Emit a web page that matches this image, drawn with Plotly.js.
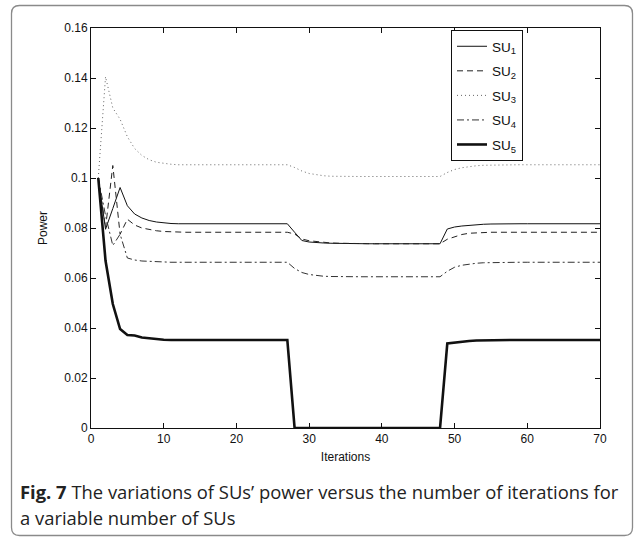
<!DOCTYPE html>
<html>
<head>
<meta charset="utf-8">
<script src="https://cdn.plot.ly/plotly-3.0.1.min.js"></script>
<style>
  html, body { margin: 0; padding: 0; background: #fff; }
  #chart { width: 635px; height: 545px; }
</style>
</head>
<body>
<div id="chart"></div>
<script>
// ---------------- DATA ----------------
const iterations = [
  1,2,3,4,5,6,7,8,9,10,
  11,12,13,14,15,16,17,18,19,20,
  21,22,23,24,25,26,27,28,29,30,
  31,32,33,34,35,36,37,38,39,40,
  41,42,43,44,45,46,47,48,49,50,
  51,52,53,54,55,56,57,58,59,60,
  61,62,63,64,65,66,67,68,69,70
];

const seriesNames = ["SU<sub>1</sub>", "SU<sub>2</sub>", "SU<sub>3</sub>", "SU<sub>4</sub>", "SU<sub>5</sub>"];

const su1 = [
  0.1, 0.0795, 0.0878, 0.0962, 0.0889, 0.0856, 0.0840, 0.0830, 0.0824, 0.0820,
  0.0818, 0.0817, 0.0817, 0.0817, 0.0817, 0.0817, 0.0817, 0.0817, 0.0817, 0.0817,
  0.0817, 0.0817, 0.0817, 0.0817, 0.0817, 0.0817, 0.0817, 0.0783, 0.0750, 0.0744,
  0.0741, 0.0740, 0.0739, 0.0738, 0.0737, 0.0737, 0.0737, 0.0737, 0.0737, 0.0737,
  0.0737, 0.0737, 0.0737, 0.0737, 0.0737, 0.0737, 0.0737, 0.0737, 0.0796, 0.0804,
  0.0808, 0.0811, 0.0813, 0.0815, 0.0816, 0.0817, 0.0817, 0.0817, 0.0817, 0.0817,
  0.0817, 0.0817, 0.0817, 0.0817, 0.0817, 0.0817, 0.0817, 0.0817, 0.0817, 0.0817
];

const su2 = [
  0.1, 0.0800, 0.1050, 0.0775, 0.0835, 0.0812, 0.0800, 0.0793, 0.0789, 0.0786,
  0.0784, 0.0783, 0.0783, 0.0783, 0.0783, 0.0783, 0.0783, 0.0783, 0.0783, 0.0783,
  0.0783, 0.0783, 0.0783, 0.0783, 0.0783, 0.0783, 0.0783, 0.0776, 0.0756, 0.0749,
  0.0745, 0.0742, 0.0740, 0.0739, 0.0738, 0.0737, 0.0737, 0.0737, 0.0737, 0.0737,
  0.0737, 0.0737, 0.0737, 0.0737, 0.0737, 0.0737, 0.0737, 0.0737, 0.0755, 0.0766,
  0.0774, 0.0779, 0.0781, 0.0782, 0.0783, 0.0783, 0.0783, 0.0783, 0.0783, 0.0783,
  0.0783, 0.0783, 0.0783, 0.0783, 0.0783, 0.0783, 0.0783, 0.0783, 0.0783, 0.0783
];

const su3 = [
  0.1, 0.1405, 0.1280, 0.1235, 0.1165, 0.1118, 0.1090, 0.1073, 0.1063, 0.1058,
  0.1055, 0.1053, 0.1053, 0.1053, 0.1053, 0.1053, 0.1053, 0.1053, 0.1053, 0.1053,
  0.1053, 0.1053, 0.1053, 0.1053, 0.1053, 0.1053, 0.1053, 0.1042, 0.1028, 0.1018,
  0.1012, 0.1009, 0.1007, 0.1006, 0.1006, 0.1006, 0.1006, 0.1006, 0.1006, 0.1006,
  0.1006, 0.1006, 0.1006, 0.1006, 0.1006, 0.1006, 0.1006, 0.1006, 0.1022, 0.1034,
  0.1041, 0.1046, 0.1049, 0.1051, 0.1052, 0.1053, 0.1053, 0.1053, 0.1053, 0.1053,
  0.1053, 0.1053, 0.1053, 0.1053, 0.1053, 0.1053, 0.1053, 0.1053, 0.1053, 0.1053
];

const su4 = [
  0.1, 0.0850, 0.0730, 0.0775, 0.0680, 0.0672, 0.0668, 0.0666, 0.0665, 0.0664,
  0.0663, 0.0663, 0.0663, 0.0663, 0.0663, 0.0663, 0.0663, 0.0663, 0.0663, 0.0663,
  0.0663, 0.0663, 0.0663, 0.0663, 0.0663, 0.0663, 0.0663, 0.0638, 0.0622, 0.0614,
  0.0610, 0.0607, 0.0606, 0.0605, 0.0605, 0.0605, 0.0605, 0.0605, 0.0605, 0.0605,
  0.0605, 0.0605, 0.0605, 0.0605, 0.0605, 0.0605, 0.0605, 0.0605, 0.0627, 0.0643,
  0.0651, 0.0656, 0.0659, 0.0661, 0.0662, 0.0663, 0.0663, 0.0663, 0.0663, 0.0663,
  0.0663, 0.0663, 0.0663, 0.0663, 0.0663, 0.0663, 0.0663, 0.0663, 0.0663, 0.0663
];

const su5 = [
  0.1, 0.0669, 0.0496, 0.0396, 0.0372, 0.0370, 0.0362, 0.0358, 0.0355, 0.0353,
  0.0352, 0.0352, 0.0352, 0.0352, 0.0352, 0.0352, 0.0352, 0.0352, 0.0352, 0.0352,
  0.0352, 0.0352, 0.0352, 0.0352, 0.0352, 0.0352, 0.0352, 0, 0, 0,
  0, 0, 0, 0, 0, 0, 0, 0, 0, 0,
  0, 0, 0, 0, 0, 0, 0, 0, 0.0338, 0.0342,
  0.0345, 0.0348, 0.0350, 0.0351, 0.0352, 0.0352, 0.0352, 0.0352, 0.0352, 0.0352,
  0.0352, 0.0352, 0.0352, 0.0352, 0.0352, 0.0352, 0.0352, 0.0352, 0.0352, 0.0352
];

const xTickVals = [0, 10, 20, 30, 40, 50, 60, 70];
const yTickVals = [0, 0.02, 0.04, 0.06, 0.08, 0.1, 0.12, 0.14, 0.16];
const yTickText = ["0", "0.02", "0.04", "0.06", "0.08", "0.1", "0.12", "0.14", "0.16"];

const xTitle = "Iterations";
const yTitle = "Power";
const captionLine1 = "<b>Fig. 7</b> The variations of SUs\u2019 power versus the number of iterations for";
const captionLine2 = "a variable number of SUs";

// ---------------- STYLE / LAYOUT ----------------
const W = 635, H = 545;
const M = { l: 91, r: 35, t: 28, b: 117 };
const PW = W - M.l - M.r, PH = H - M.t - M.b;
const px2x = X => (X - M.l) / PW;
const px2y = Y => (H - M.b - Y) / PH;

const styles = [
  { color: "#111", width: 1, dash: "solid" },
  { color: "#222", width: 1, dash: "6px,4px" },
  { color: "#666", width: 1, dash: "1px,3px" },
  { color: "#333", width: 1, dash: "7px,3px,2px,3px" },
  { color: "#111", width: 2.6, dash: "solid" }
];

const allSeries = [su1, su2, su3, su4, su5];
const traces = allSeries.map((ys, i) => ({
  type: "scatter",
  mode: "lines",
  x: iterations,
  y: ys,
  name: seriesNames[i],
  legendgroup: "g" + i,
  line: { color: styles[i].color, width: styles[i].width, dash: styles[i].dash },
  hoverinfo: "skip"
}));

// rounded frame around the whole figure (pixel coords -> paper coords)
const fx0 = 11.5, fx1 = 632.5, fy0 = 5.5, fy1 = 535.5, rad = 8;
const framePath = [
  "M", px2x(fx0 + rad), px2y(fy0),
  "L", px2x(fx1 - rad), px2y(fy0),
  "Q", px2x(fx1), px2y(fy0), px2x(fx1), px2y(fy0 + rad),
  "L", px2x(fx1), px2y(fy1 - rad),
  "Q", px2x(fx1), px2y(fy1), px2x(fx1 - rad), px2y(fy1),
  "L", px2x(fx0 + rad), px2y(fy1),
  "Q", px2x(fx0), px2y(fy1), px2x(fx0), px2y(fy1 - rad),
  "L", px2x(fx0), px2y(fy0 + rad),
  "Q", px2x(fx0), px2y(fy0), px2x(fx0 + rad), px2y(fy0),
  "Z"
].join(" ");

const axisFont = { family: "Liberation Sans, Arial, sans-serif", size: 12, color: "#111" };
const capFont = { family: "Open Sans, Noto Sans, sans-serif", size: 18.4, color: "#222" };

const layout = {
  width: W, height: H,
  margin: M,
  paper_bgcolor: "#fff",
  plot_bgcolor: "#fff",
  showlegend: true,
  legend: {
    x: px2x(451), y: px2y(30), xanchor: "left", yanchor: "top",
    bgcolor: "#fff", bordercolor: "#111", borderwidth: 1,
    font: { family: "Liberation Sans, Arial, sans-serif", size: 13.5, color: "#111" },
    tracegroupgap: 4,
    traceorder: "grouped",
    itemwidth: 30
  },
  xaxis: {
    range: [0, 70], tickvals: xTickVals, ticks: "inside", ticklen: 5, tickcolor: "#111",
    showline: true, linecolor: "#111", linewidth: 1, mirror: "ticks",
    showgrid: false, zeroline: false, tickfont: axisFont,
    title: { text: xTitle, font: axisFont, standoff: 7 }
  },
  yaxis: {
    range: [0, 0.16], tickvals: yTickVals, ticktext: yTickText, ticks: "inside", ticklen: 5, tickcolor: "#111",
    showline: true, linecolor: "#111", linewidth: 1, mirror: "ticks",
    showgrid: false, zeroline: false, tickfont: axisFont,
    title: { text: yTitle, font: axisFont, standoff: 14 }
  },
  shapes: [{
    type: "path", xref: "paper", yref: "paper", path: framePath,
    line: { color: "#8a8a8a", width: 1.3 }, fillcolor: "rgba(0,0,0,0)", layer: "below"
  }],
  annotations: [
    { xref: "paper", yref: "paper", x: px2x(18), y: px2y(491), xanchor: "left", yanchor: "middle",
      text: captionLine1, showarrow: false, font: capFont },
    { xref: "paper", yref: "paper", x: px2x(18), y: px2y(517), xanchor: "left", yanchor: "middle",
      text: captionLine2, showarrow: false, font: capFont }
  ]
};

Plotly.newPlot("chart", traces, layout, { staticPlot: true, displayModeBar: false });
</script>
</body>
</html>
